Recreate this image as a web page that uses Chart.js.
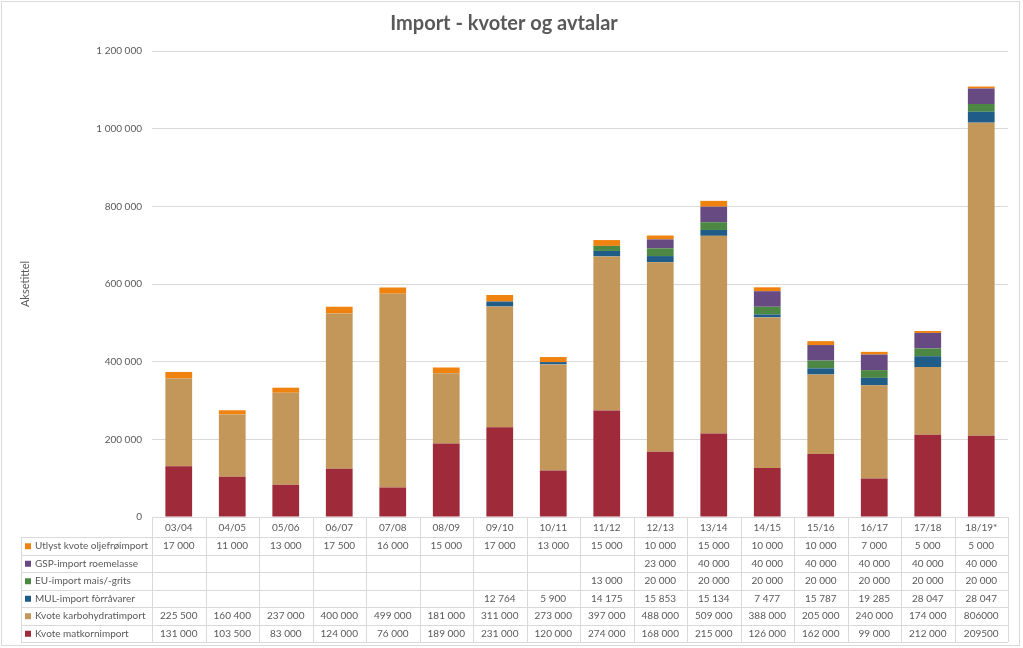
<!DOCTYPE html>
<html>
<head>
<meta charset="utf-8">
<script src="https://cdn.jsdelivr.net/npm/chart.js@4.4.1/dist/chart.umd.min.js"></script>
<style>
  body{margin:0;background:#fff;}
  #wrap{width:1023px;height:648px;position:relative;}
</style>
</head>
<body>
<div id="wrap"><canvas id="importChart"></canvas></div>
<script>
// data
const seasons = ["03/04","04/05","05/06","06/07","07/08","08/09","09/10","10/11","11/12","12/13","13/14","14/15","15/16","16/17","17/18","18/19*"];
const matkorn = [131000,103500,83000,124000,76000,189000,231000,120000,274000,168000,215000,126000,162000,99000,212000,209500];
const karbohydrat = [225500,160400,237000,400000,499000,181000,311000,273000,397000,488000,509000,388000,205000,240000,174000,806000];
const mulImport = [null,null,null,null,null,null,12764,5900,14175,15853,15134,7477,15787,19285,28047,28047];
const euImport = [null,null,null,null,null,null,null,null,13000,20000,20000,20000,20000,20000,20000,20000];
const gspImport = [null,null,null,null,null,null,null,null,null,23000,40000,40000,40000,40000,40000,40000];
const oljefro = [17000,11000,13000,17500,16000,15000,17000,13000,15000,10000,15000,10000,10000,7000,5000,5000];
const yTicks = [0,200000,400000,600000,800000,1000000,1200000];

const FONT = "Lato, 'Open Sans', sans-serif";
const GREY = "#595959";
const LINE = "#d9d9d9";

// the last column was typed in without thousand separator
const noSpace = {"Kvote karbohydratimport":[15],"Kvote matkornimport":[15]};

function fmt(v){
    return String(v).replace(/\B(?=(\d{3})+(?!\d))/g," ");
}

const tablePlugin = {
    id:"dataTable",
    beforeDraw(chart){
        const ctx = chart.ctx;
        ctx.save();
        ctx.strokeStyle = LINE;
        ctx.lineWidth = 1;
        ctx.strokeRect(1.5,1.5,chart.width-5,chart.height-4);
        ctx.restore();
    },
    afterDraw(chart){
        const ctx = chart.ctx;
        const a = chart.chartArea;
        const n = chart.data.labels.length;
        const w = (a.right-a.left)/n;
        const headH = 20, rowH = 17.5, legLeft = 21;
        const sets = chart.data.datasets.slice().reverse();
        const bottom = a.bottom+headH+rowH*sets.length;

        ctx.save();
        ctx.strokeStyle = LINE;
        ctx.lineWidth = 1;
        ctx.beginPath();
        ctx.moveTo(a.left,Math.round(a.bottom)+0.5);
        ctx.lineTo(a.right,Math.round(a.bottom)+0.5);
        for(let i=0;i<=sets.length;i++){
            const y = Math.round(a.bottom+headH+i*rowH)+0.5;
            ctx.moveTo(legLeft,y);
            ctx.lineTo(a.right,y);
        }
        ctx.moveTo(legLeft+0.5,a.bottom+headH);
        ctx.lineTo(legLeft+0.5,bottom);
        for(let j=0;j<=n;j++){
            const x = Math.round(a.left+j*w)+0.5;
            ctx.moveTo(x,a.bottom);
            ctx.lineTo(x,bottom);
        }
        ctx.stroke();

        ctx.font = "10px "+FONT;
        ctx.textBaseline = "middle";
        sets.forEach((ds,i)=>{
            const yc = a.bottom+headH+i*rowH+rowH/2+0.5;
            ctx.fillStyle = ds.backgroundColor;
            ctx.fillRect(25,yc-3,6,6);
            ctx.fillStyle = GREY;
            ctx.textAlign = "left";
            ctx.fillText(ds.label,35,yc);
            ctx.textAlign = "center";
            ds.data.forEach((v,j)=>{
                if(v===null) return;
                const plain = (noSpace[ds.label]||[]).includes(j);
                ctx.fillText(plain?String(v):fmt(v),a.left+(j+0.5)*w,yc);
            });
        });
        ctx.restore();
    }
};

new Chart(document.getElementById("importChart"),{
    type:"bar",
    data:{
        labels:seasons,
        datasets:[
            {label:"Kvote matkornimport",data:matkorn,backgroundColor:"#9e2a3a"},
            {label:"Kvote karbohydratimport",data:karbohydrat,backgroundColor:"#c3975a"},
            {label:"MUL-import fòrråvarer",data:mulImport,backgroundColor:"#1f5c87"},
            {label:"EU-import mais/-grits",data:euImport,backgroundColor:"#4c8844"},
            {label:"GSP-import roemelasse",data:gspImport,backgroundColor:"#674a82"},
            {label:"Utlyst kvote oljefrøimport",data:oljefro,backgroundColor:"#f0830f"}
        ]
    },
    options:{
        responsive:true,
        maintainAspectRatio:false,
        animation:false,
        layout:{padding:{left:0,right:15,top:0,bottom:6}},
        datasets:{bar:{barPercentage:0.5,categoryPercentage:1}},
        plugins:{
            legend:{display:false},
            tooltip:{enabled:false},
            title:{
                display:true,
                text:"Import - kvoter og avtalar",
                color:GREY,
                font:{family:FONT,size:20,weight:"bold"},
                padding:{top:12,bottom:15}
            }
        },
        scales:{
            x:{
                stacked:true,
                grid:{display:false,drawTicks:false},
                border:{display:false},
                ticks:{color:GREY,font:{family:FONT,size:10},padding:5,maxRotation:0},
                afterFit(s){ s.height = 125; }
            },
            y:{
                stacked:true,
                min:0,max:1200000,
                afterBuildTicks(s){ s.ticks = yTicks.map(v=>({value:v})); },
                grid:{color:LINE,drawTicks:false},
                border:{display:false},
                ticks:{color:GREY,font:{family:FONT,size:10},padding:10,callback:v=>fmt(v)},
                title:{display:true,text:"Aksetittel",color:GREY,font:{family:FONT,size:11},padding:{top:19}},
                afterFit(s){ s.width = 152; }
            }
        }
    },
    plugins:[tablePlugin]
});
</script>
</body>
</html>
